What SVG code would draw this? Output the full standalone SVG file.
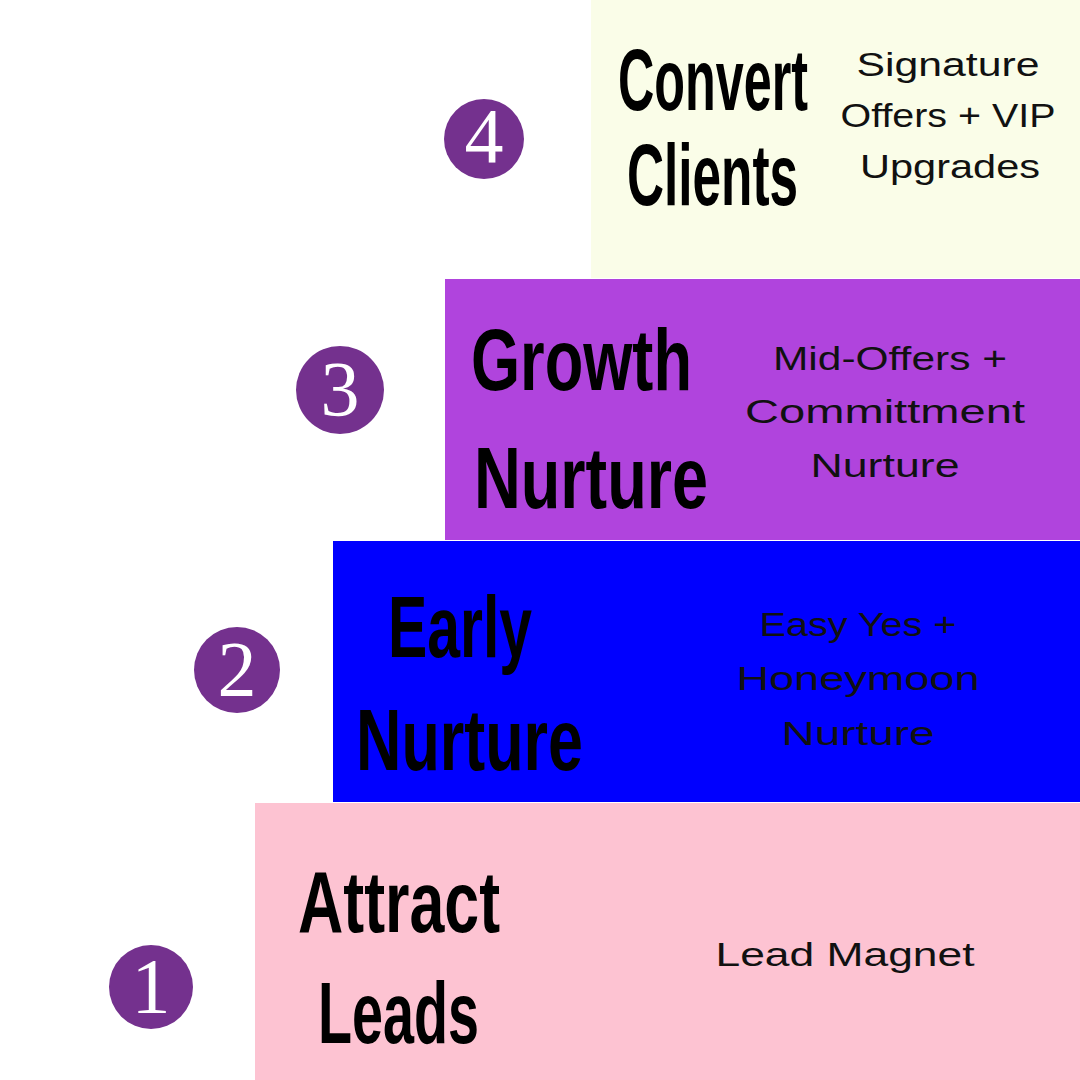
<svg xmlns="http://www.w3.org/2000/svg" width="1080" height="1080" viewBox="0 0 1080 1080">
<style>
.title{font-family:"Liberation Sans",Arial,sans-serif;font-weight:bold;font-size:88px;fill:#000;}
.desc{font-family:"Liberation Sans",Arial,sans-serif;font-size:33px;fill:#111;text-anchor:middle;}
.badge{fill:#74318e;}
.num{font-family:"Liberation Serif","DejaVu Serif",serif;font-size:78px;fill:#fff;text-anchor:middle;}
</style>
<rect width="1080" height="1080" fill="#fff"/>
<g id="connectors"/>
<g id="step4">
<rect x="591" y="0" width="489" height="278" fill="#fafde8"/>
<text class="title" transform="translate(618,110) scale(0.6,1)" font-size="84" textLength="316.7" lengthAdjust="spacingAndGlyphs">Convert</text>
<text class="title" transform="translate(627,205) scale(0.6,1)" font-size="84" textLength="285" lengthAdjust="spacingAndGlyphs">Clients</text>
<text class="desc" x="948" y="76" textLength="183" lengthAdjust="spacingAndGlyphs">Signature</text>
<text class="desc" x="948" y="127" textLength="215" lengthAdjust="spacingAndGlyphs">Offers + VIP</text>
<text class="desc" x="950" y="178" textLength="180" lengthAdjust="spacingAndGlyphs">Upgrades</text>
</g>
<g id="badge4"><circle class="badge" cx="484" cy="139" r="40"/><text class="num" x="484" y="162">4</text></g>
<g id="step3">
<rect x="445" y="279" width="635" height="261" fill="#b044dd"/>
<text class="title" transform="translate(471,390) scale(0.6,1)" font-size="95" textLength="368.3" lengthAdjust="spacingAndGlyphs">Growth</text>
<text class="title" transform="translate(474,508) scale(0.6,1)" font-size="95" textLength="390" lengthAdjust="spacingAndGlyphs">Nurture</text>
<text class="desc" x="890" y="370" textLength="234" lengthAdjust="spacingAndGlyphs">Mid-Offers +</text>
<text class="desc" x="885" y="423" textLength="280" lengthAdjust="spacingAndGlyphs">Committment</text>
<text class="desc" x="885" y="477" textLength="149" lengthAdjust="spacingAndGlyphs">Nurture</text>
</g>
<g id="badge3"><circle class="badge" cx="340" cy="390" r="44"/><text class="num" x="340" y="415" font-size="82">3</text></g>
<g id="step2">
<rect x="333" y="541" width="747" height="261" fill="#0000ff"/>
<text class="title" transform="translate(388,657) scale(0.6,1)" font-size="95" textLength="240" lengthAdjust="spacingAndGlyphs">Early</text>
<text class="title" transform="translate(356,770) scale(0.6,1)" font-size="95" textLength="378.3" lengthAdjust="spacingAndGlyphs">Nurture</text>
<text class="desc" x="858" y="636" textLength="197" lengthAdjust="spacingAndGlyphs">Easy Yes +</text>
<text class="desc" x="858" y="690" textLength="243" lengthAdjust="spacingAndGlyphs">Honeymoon</text>
<text class="desc" x="858" y="745" textLength="153" lengthAdjust="spacingAndGlyphs">Nurture</text>
</g>
<g id="badge2"><circle class="badge" cx="237" cy="670" r="43"/><text class="num" x="237" y="695" font-size="82">2</text></g>
<g id="step1">
<rect x="255" y="803" width="825" height="277" fill="#fdc3d2"/>
<text class="title" transform="translate(298,932) scale(0.6,1)" font-size="88" textLength="336.7" lengthAdjust="spacingAndGlyphs">Attract</text>
<text class="title" transform="translate(318,1043) scale(0.6,1)" font-size="88" textLength="268.3" lengthAdjust="spacingAndGlyphs">Leads</text>
<text class="desc" x="845" y="966" textLength="259" lengthAdjust="spacingAndGlyphs">Lead Magnet</text>
</g>
<g id="badge1"><circle class="badge" cx="151" cy="987" r="42"/><text class="num" x="151" y="1012" font-size="82">1</text></g>
</svg>
